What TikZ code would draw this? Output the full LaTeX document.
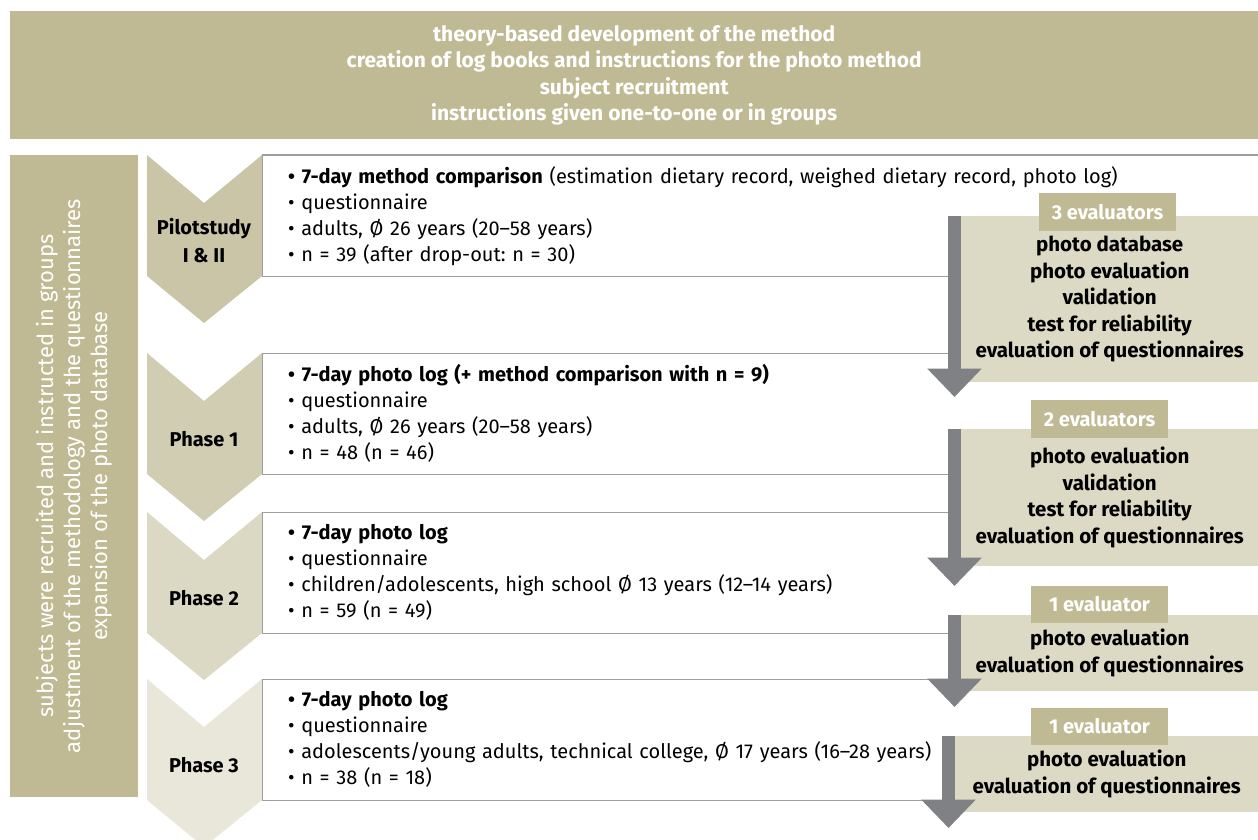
\documentclass[tikz,border=0pt]{standalone}
\usepackage{fontspec}
\setmainfont{Fira Sans}
\usepackage{tikz}
\usetikzlibrary{arrows.meta, positioning, calc}
\definecolor{StudyOlive}{RGB}{191,186,147}
\definecolor{StudySand}{RGB}{220,218,196}
\definecolor{StudyGrey}{RGB}{128,129,133}
\definecolor{StudyLine}{RGB}{158,158,158}
\definecolor{PhaseA}{RGB}{201,197,166}
\definecolor{PhaseB}{RGB}{208,205,178}
\definecolor{PhaseC}{RGB}{219,216,196}
\definecolor{PhaseD}{RGB}{233,231,218}
\frenchspacing

\tikzset{
  phasebox/.style={anchor=north west, fill=white, inner xsep=26pt, inner ysep=0pt,
    minimum height=121pt, text width=#1, align=left,
    font=\fontsize{20}{26}\selectfont},
  phasebox/.default=660pt,
  boxline/.style={StudyLine, line width=1pt},
  phaselabel/.style={align=center, font=\fontsize{20}{28}\selectfont\bfseries},
  evalbox/.style={anchor=north west, fill=StudySand, minimum width=297pt,
    minimum height=#1, inner sep=0pt, align=center,
    font=\fontsize{20.5}{26.5}\selectfont\bfseries},
  evallabel/.style={fill=StudyOlive, text=white, minimum width=137pt,
    minimum height=37.5pt, inner sep=0pt, font=\fontsize{20}{24}\selectfont\bfseries},
  evalarrow/.style={StudyGrey, line width=13pt, -{Triangle[width=53pt,length=28.5pt]}}
}

\begin{document}
\begin{tikzpicture}[x=1pt,y=-1pt]
  \path[use as bounding box] (0,0) rectangle (1258,840);
  \fill[white] (0,0) rectangle (1258,840);
  % top banner and side bar
  \node[anchor=north west, fill=StudyOlive, text=white, minimum width=1248pt,
    minimum height=128pt, align=center, font=\fontsize{21}{26.5}\selectfont\bfseries]
    (banner) at (10,11) {theory-based development of the method\\
    creation of log books and instructions for the photo method\\
    subject recruitment\\
    instructions given one-to-one or in groups};
  \node[fill=StudyOlive, text=white, rotate=90, minimum width=642pt,
    minimum height=128pt, align=center, font=\fontsize{22}{27}\selectfont]
    (sidebar) at (74,476) {subjects were recruited and instructed in groups\\
    adjustment of the methodology and the questionnaires\\
    expansion of the photo database};
  % chevrons
  \foreach \t/\c/\lbl [count=\i] in {155/PhaseA/{Pilotstudy\\I \& II},
      353/PhaseB/{Phase 1}, 512/PhaseC/{Phase 2}, 679/PhaseD/{Phase 3}}{
    \fill[\c] (147,\t) -- (204,{\t+48}) -- (262,\t) -- (262,{\t+121})
      -- (204,{\t+168}) -- (147,{\t+121}) -- cycle;
    \node[phaselabel] (chev\i) at (204,{\t+86}) {\lbl};
  }
  % phase boxes
  \node[phasebox=944pt] (boxA) at (262,155) {%
    \textbf{• 7-day method comparison} (estimation dietary record, weighed dietary record, photo log)\\
    • questionnaire\\
    • adults, Ø 26 years (20–58 years)\\
    • n = 39 (after drop-out: n = 30)};
  \node[phasebox] (boxB) at (262,353) {%
    \textbf{• 7-day photo log (+ method comparison with n = 9)}\\
    • questionnaire\\
    • adults, Ø 26 years (20–58 years)\\
    • n = 48 (n = 46)};
  \node[phasebox] (boxC) at (262,512) {%
    \textbf{• 7-day photo log}\\
    • questionnaire\\
    • children/adolescents, high school Ø 13 years (12–14 years)\\
    • n = 59 (n = 49)};
  \node[phasebox] (boxD) at (262,679) {%
    \textbf{• 7-day photo log}\\
    • questionnaire\\
    • adolescents/young adults, technical college, Ø 17 years (16–28 years)\\
    • n = 38 (n = 18)};
  \foreach \b in {boxA,boxB,boxC,boxD}{
    \draw[boxline] (\b.north east) -| (\b.south west) -- (\b.south east);
  }
  % evaluation boxes
  \node[evalbox=166pt] (evalA) at (961,216) {photo database\\photo evaluation\\validation\\
    test for reliability\\evaluation of questionnaires};
  \node[evalbox=137pt] (evalB) at (961,429) {photo evaluation\\validation\\
    test for reliability\\evaluation of questionnaires};
  \node[evalbox=76pt] (evalC) at (961,615) {photo evaluation\\evaluation of questionnaires};
  \node[evalbox=76pt, minimum width=303pt] (evalD) at (955,736) {photo evaluation\\evaluation of questionnaires};
  \node[evallabel] (labA) at (1107.5,212) {3 evaluators};
  \node[evallabel] (labB) at (1099.5,419) {2 evaluators};
  \node[evallabel] (labC) at (1099.5,604.5) {1 evaluator};
  \node[evallabel] (labD) at (1099.5,726.5) {1 evaluator};
  % arrows
  \coordinate (topA) at (954.5,216);  \coordinate (tipA) at (954.5,397);
  \coordinate (topB) at (954.5,429);  \coordinate (tipB) at (954.5,586);
  \coordinate (topC) at (954.5,615);  \coordinate (tipC) at (954.5,707);
  \coordinate (topD) at (948.5,736);  \coordinate (tipD) at (948.5,828);
  \foreach \a in {A,B,C,D}{
    \draw[evalarrow] (top\a) -- (tip\a);
  }
\end{tikzpicture}
\end{document}
